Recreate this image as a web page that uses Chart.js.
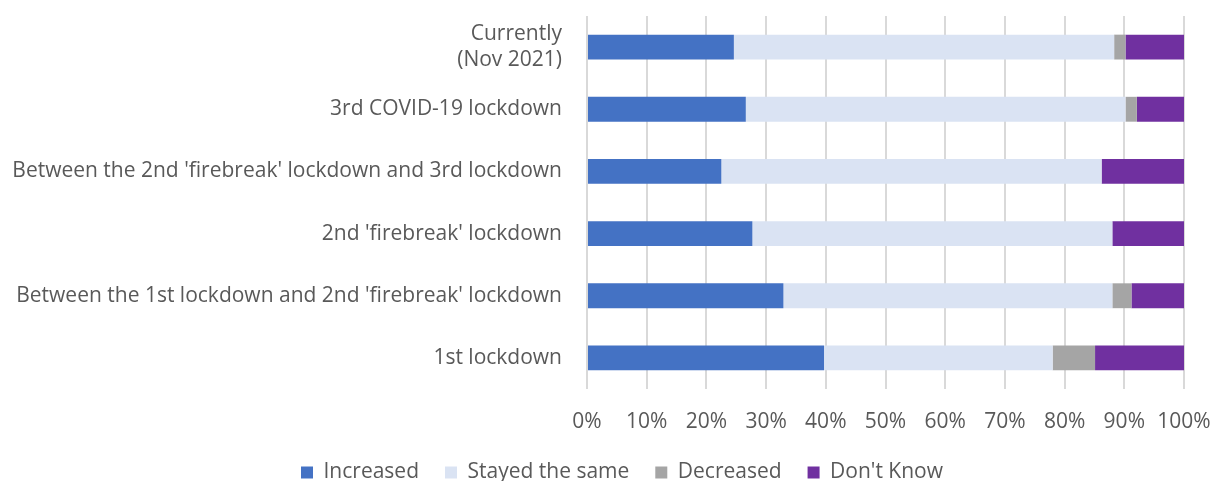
<!DOCTYPE html>
<html lang="en">
<head>
<meta charset="UTF-8">
<title>Change over lockdowns</title>
<script src="https://cdn.jsdelivr.net/npm/chart.js"></script>
<style>
    body { margin: 0; background: #ffffff; }
    .chart-box { position: relative; width: 1213px; height: 481px; }
</style>
</head>
<body>
<div class="chart-box"><canvas id="chart"></canvas></div>
<script>
    // categories, top to bottom
    const periods = [
        ['Currently', '(Nov 2021)'],
        '3rd COVID-19 lockdown',
        "Between the 2nd 'firebreak' lockdown and 3rd lockdown",
        "2nd 'firebreak' lockdown",
        "Between the 1st lockdown and 2nd 'firebreak' lockdown",
        '1st lockdown'
    ];
    const increased   = [24.6, 26.6, 22.5, 27.7, 32.9, 39.7];
    const stayedSame  = [63.7, 63.6, 63.7, 60.3, 55.1, 38.3];
    const decreased   = [1.9, 1.9, 0, 0, 3.2, 7.1];
    const dontKnow    = [9.8, 7.9, 13.8, 12.0, 8.8, 14.9];
    const xTicks = [0, 10, 20, 30, 40, 50, 60, 70, 80, 90, 100];

    const textColor = '#595959';
    const fontFamily = '"Open Sans", sans-serif';

    const series = [
        { label: 'Increased', data: increased, color: '#4472c4' },
        { label: 'Stayed the same', data: stayedSame, color: '#dae3f3' },
        { label: 'Decreased', data: decreased, color: '#a5a5a5' },
        { label: "Don't Know", data: dontKnow, color: '#7030a0' }
    ];

    // the legend sits a bit right of centre in the original
    const legendNudge = {
        id: 'legendNudge',
        afterLayout(chart) { chart.legend.left += 60; }
    };

    new Chart(document.getElementById('chart'), {
        type: 'bar',
        data: {
            labels: periods,
            datasets: series.map(s => ({
                label: s.label,
                data: s.data,
                backgroundColor: s.color,
                borderWidth: 0,
                categoryPercentage: 0.8,
                barPercentage: 0.5
            }))
        },
        options: {
            indexAxis: 'y',
            responsive: true,
            maintainAspectRatio: false,
            animation: false,
            layout: { padding: { top: 16, right: 29, left: 0, bottom: -12 } },
            scales: {
                x: {
                    stacked: true,
                    min: 0,
                    max: 100,
                    afterBuildTicks: axis => { axis.ticks = xTicks.map(v => ({ value: v })); },
                    afterFit: axis => {
                        axis.height = 47;
                        axis.paddingLeft = 0;
                        axis.paddingRight = 0;
                    },
                    ticks: {
                        color: textColor,
                        font: { family: fontFamily, size: 21 },
                        padding: 20,
                        callback: v => v + '%'
                    },
                    grid: { color: '#d9d9d9', lineWidth: 2, drawTicks: false },
                    border: { display: false }
                },
                y: {
                    stacked: true,
                    afterFit: axis => {
                        axis.width = 587;
                        axis.paddingTop = 0;
                        axis.paddingBottom = 0;
                    },
                    ticks: {
                        color: textColor,
                        font: { family: fontFamily, size: 21 },
                        padding: 25
                    },
                    grid: { display: false, drawTicks: false },
                    border: { display: false }
                }
            },
            plugins: {
                legend: {
                    position: 'bottom',
                    labels: {
                        color: textColor,
                        font: { family: fontFamily, size: 21 },
                        boxWidth: 12,
                        boxHeight: 12,
                        padding: 26
                    }
                },
                tooltip: { enabled: false }
            }
        },
        plugins: [legendNudge]
    });
</script>
</body>
</html>
